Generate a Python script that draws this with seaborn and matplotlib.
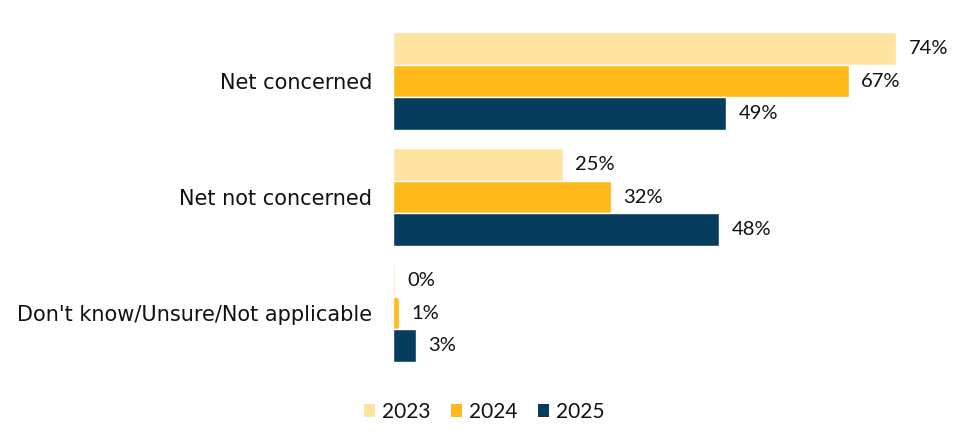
import matplotlib
matplotlib.use("Agg")
import matplotlib.pyplot as plt
import seaborn as sns
import pandas as pd
from matplotlib.patches import Patch

categories = ["Net concerned", "Net not concerned", "Don't know/Unsure/Not applicable"]
years = ["2023", "2024", "2025"]
values_2023 = [74, 25, 0.3]
values_2024 = [67, 32, 0.9]
values_2025 = [49, 48, 3.4]
labels_2023 = ["74%", "25%", "0%"]
labels_2024 = ["67%", "32%", "1%"]
labels_2025 = ["49%", "48%", "3%"]
colors = ["#FFE3A1", "#FDBA1A", "#073D5C"]

rows = []
for yr, vals in zip(years, [values_2023, values_2024, values_2025]):
    for c, v in zip(categories, vals):
        rows.append({"category": c, "year": yr, "value": v})
df = pd.DataFrame(rows)

sns.set_theme(style="white")
plt.rcParams['font.family'] = ['DejaVu Sans']

fig = plt.figure(figsize=(9.57, 4.46), dpi=100)
ax = fig.add_axes([393/957, 1-382.6/446, 544/957, 371.2/446])

sns.barplot(data=df, y="category", x="value", hue="year", order=categories,
            hue_order=years, palette=colors, orient="h", width=0.84,
            saturation=1, ax=ax, legend=False)

for cont, labs in zip(ax.containers, [labels_2023, labels_2024, labels_2025]):
    ax.bar_label(cont, labels=labs, padding=9, fontsize=14.5, family="Lato",
                 color="#111111")

ax.set_xlim(0, 80)
ax.set_ylim(2.6, -0.6)
ax.set_xlabel("")
ax.set_ylabel("")
ax.set_xticks([])
ax.tick_params(axis="y", length=0, pad=15, labelsize=15, labelcolor="#111111")
for s in ax.spines.values():
    s.set_visible(False)

handles = [Patch(facecolor=c, edgecolor="none") for c in colors]
fig.legend(handles, years, loc="center", bbox_to_anchor=(484/957, 1-412/446),
           ncol=3, frameon=False, prop={"family": "Lato", "size": 15},
           labelcolor="#111111",
           handlelength=0.55, handleheight=0.55, handletextpad=0.3,
           columnspacing=1.0)

fig.savefig("out.png", dpi=100)
